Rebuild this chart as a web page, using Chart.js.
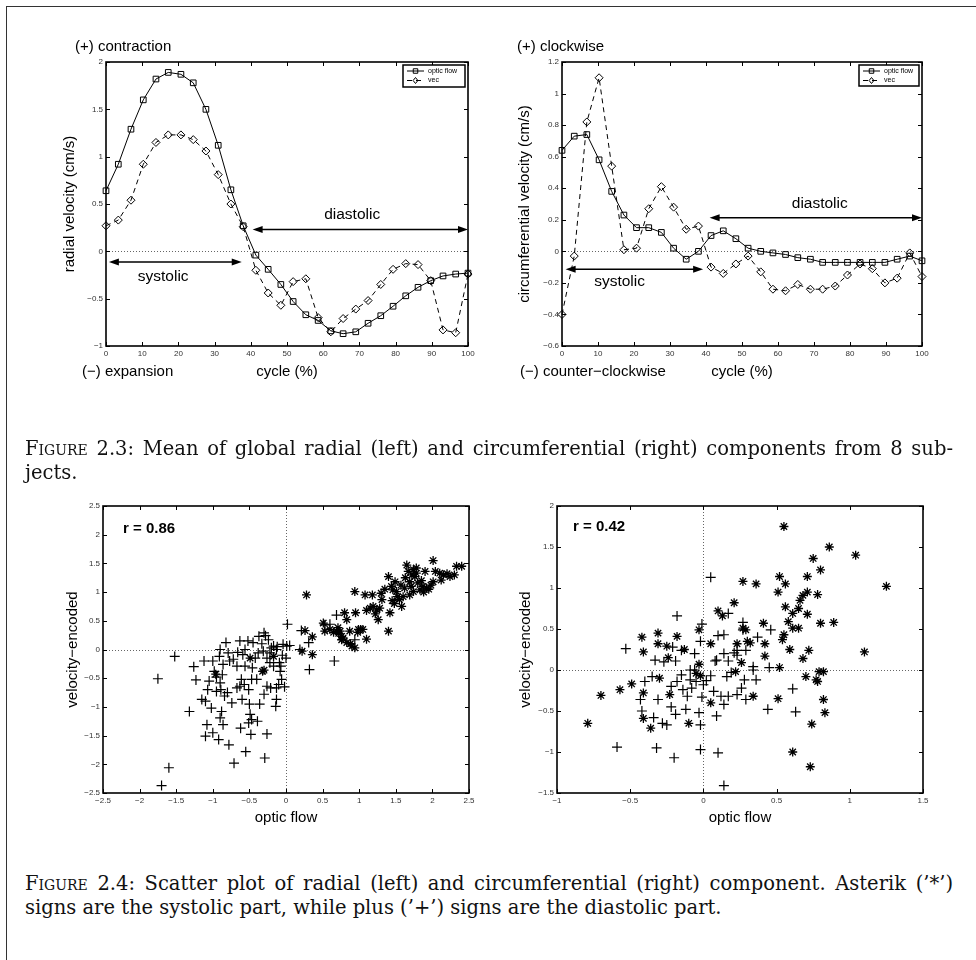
<!DOCTYPE html>
<html>
<head>
<meta charset="utf-8">
<script src="https://cdn.jsdelivr.net/npm/chart.js@4.4.1/dist/chart.umd.min.js"></script>
<style>
  body { margin: 0; width: 976px; height: 960px; background: #fff; position: relative; overflow: hidden; }
  .frame-top { position: absolute; left: 6px; top: 6px; width: 970px; border-top: 1.5px solid #333; }
  .frame-left { position: absolute; left: 6px; top: 6px; height: 954px; border-left: 1.5px solid #333; }
  .plot { position: absolute; }
  .cap { position: absolute; left: 25px; font-family: 'DejaVu Serif', serif; font-size: 17px; line-height: 23px; color: #111; white-space: nowrap; }
  .sc { font-variant: small-caps; }
</style>
</head>
<body>
<div class="frame-top"></div>
<div class="frame-left"></div>

<canvas id="radial" class="plot" width="462" height="384" style="left:26px;top:12px"></canvas>
<canvas id="circ" class="plot" width="460" height="384" style="left:482px;top:12px"></canvas>
<canvas id="radialScatter" class="plot" width="466" height="387" style="left:23px;top:456px"></canvas>
<canvas id="circScatter" class="plot" width="466" height="387" style="left:477px;top:456px"></canvas>

<div class="cap" data-justify="928" data-group="a" style="top:437px"><span><span class="sc">Figure</span> 2.3: Mean of global radial (left) and circumferential (right) components from 8 sub-</span></div>
<div class="cap" data-group="a" style="top:461px"><span>jects.</span></div>
<div class="cap" data-justify="928" data-group="b" style="top:872px"><span><span class="sc">Figure</span> 2.4: Scatter plot of radial (left) and circumferential (right) component. Asterik (’*’)</span></div>
<div class="cap" data-group="b" style="top:896px"><span>signs are the systolic part, while plus (’+’) signs are the diastolic part.</span></div>

<script>
// cycle positions (%) of the 30 samples
const cycle = [0, 3.4, 6.9, 10.3, 13.8, 17.2, 20.7, 24.1, 27.6, 31.0, 34.5, 37.9, 41.4, 44.8, 48.3,
  51.7, 55.2, 58.6, 62.1, 65.5, 69.0, 72.4, 75.9, 79.3, 82.8, 86.2, 89.7, 93.1, 96.6, 100];

// radial velocity (cm/s)
const radialFlow = [0.64, 0.92, 1.29, 1.60, 1.82, 1.89, 1.87, 1.78, 1.50, 1.12, 0.65, 0.27, -0.04, -0.19, -0.35,
  -0.53, -0.67, -0.73, -0.84, -0.87, -0.85, -0.76, -0.68, -0.58, -0.47, -0.38, -0.31, -0.26, -0.24, -0.23];
const radialVec = [0.27, 0.33, 0.54, 0.92, 1.15, 1.23, 1.23, 1.18, 1.06, 0.81, 0.50, 0.26, -0.20, -0.44, -0.57,
  -0.32, -0.29, -0.70, -0.85, -0.71, -0.61, -0.52, -0.35, -0.19, -0.13, -0.14, -0.31, -0.83, -0.86, -0.24];

// circumferential velocity (cm/s)
const circFlow = [0.64, 0.73, 0.74, 0.58, 0.38, 0.23, 0.15, 0.15, 0.12, 0.02, -0.05, 0.00, 0.10, 0.13, 0.08,
  0.02, 0.00, -0.01, -0.02, -0.04, -0.05, -0.07, -0.07, -0.07, -0.07, -0.07, -0.07, -0.05, -0.03, -0.06];
const circVec = [-0.40, -0.03, 0.82, 1.10, 0.54, 0.01, 0.02, 0.27, 0.41, 0.28, 0.14, 0.16, -0.10, -0.14, -0.08,
  -0.03, -0.13, -0.24, -0.25, -0.21, -0.24, -0.24, -0.22, -0.15, -0.08, -0.11, -0.20, -0.17, -0.01, -0.16];

// scatter: [optic flow, velocity-encoded]
const radialSystolic = [[0.28,0.95],[0.94,1.01],[1.08,0.95],[1.18,0.95],[1.31,0.87],[1.19,0.75],[1.15,0.72],[1.24,0.69],
  [1.28,0.72],[1.26,0.52],[1.40,1.27],[1.44,1.10],[1.46,1.04],[1.42,0.64],[1.40,0.32],[1.49,1.18],[1.55,0.87],[1.58,0.75],
  [1.60,0.92],[1.65,1.47],[1.67,1.36],[1.69,1.18],[1.71,1.10],[1.74,1.39],[1.76,1.27],[1.78,1.33],[1.80,1.16],[1.69,0.95],
  [1.74,1.01],[1.83,1.04],[1.87,1.10],[1.92,1.07],[1.62,1.07],[2.01,1.55],[2.04,1.36],[2.10,1.33],[2.15,1.30],[2.24,1.27],
  [2.33,1.45],[2.40,1.45],[2.12,1.21],[2.01,1.18],[1.90,1.36],[1.51,1.01],[0.51,0.46],[0.53,0.32],[0.69,0.32],[0.71,0.38],
  [0.74,0.32],[0.80,0.64],[0.83,0.52],[0.87,0.32],[0.95,0.64],[0.99,0.35],[1.05,0.35],[1.10,0.18],[0.26,0.33],[0.22,-0.03],
  [0.36,0.22],[0.36,-0.09],[0.76,0.17],[0.83,0.12],[0.90,0.06],[0.94,0.03],[0.76,0.23],[-0.17,-0.12],[-0.30,-0.36],
  [-0.96,-0.43],[-0.49,-0.15],[-0.32,-0.38],[1.35,1.05],[1.45,0.85],[1.52,0.92],[1.63,1.25],[1.72,1.30],[1.85,1.20],
  [1.95,1.05],[1.88,1.00],[1.57,1.12],[1.30,0.98],[1.10,0.68],[1.22,0.62],[1.48,0.80],[1.78,1.42],[2.20,1.32],[2.30,1.30],
  [1.98,1.12],[0.65,0.30],[0.72,0.28],[0.60,0.35],[0.78,0.20],[0.88,0.10],[0.98,0.30],[1.02,0.35]];
const radialDiastolic = [[-1.52,-0.12],[-1.75,-0.51],[-1.26,-0.30],[-1.23,-0.53],[-1.12,-0.20],[-1.00,-0.20],[-1.32,-1.08],
  [-1.15,-0.87],[-1.10,-0.90],[-1.08,-1.31],[-1.10,-1.51],[-1.00,-1.45],[-0.92,-1.57],[-0.86,-1.31],[-0.90,-1.19],[-0.88,-1.08],
  [-1.02,-1.02],[-1.05,-0.55],[-1.07,-0.70],[-0.95,-0.73],[-0.89,-0.70],[-0.84,-0.81],[-0.98,-0.38],[-0.90,-0.58],[-0.87,-0.44],
  [-0.91,-0.12],[-0.90,0.00],[-0.82,0.12],[-0.86,-0.26],[-0.79,-0.06],[-0.77,-0.20],[-0.72,-0.17],[-0.67,-0.29],[-0.67,-0.67],
  [-0.63,-0.64],[-0.74,-0.93],[-0.78,-1.66],[-0.71,-1.98],[-1.60,-2.06],[-1.70,-2.37],[-0.55,-1.78],[-0.62,-1.37],[-0.60,-0.87],
  [-0.61,-0.52],[-0.57,-0.61],[-0.48,-1.48],[-0.49,-1.13],[-0.47,-1.22],[-0.51,-1.28],[-0.39,-1.25],[-0.50,-0.95],[-0.36,-0.95],
  [-0.51,-0.70],[-0.47,-0.52],[-0.40,-0.52],[-0.46,-0.32],[-0.56,-0.29],[-0.59,-0.09],[-0.63,0.15],[-0.52,0.15],[-0.56,0.00],
  [-0.45,0.12],[-0.37,0.23],[-0.30,0.29],[-0.28,0.24],[-0.24,0.17],[-0.38,-0.06],[-0.31,-0.03],[-0.26,-0.15],[-0.22,-0.06],
  [-0.20,0.03],[-0.17,0.06],[-0.13,0.00],[-0.22,-0.23],[-0.17,-0.29],[-0.09,-0.23],[-0.07,-0.29],[-0.04,0.09],[0.01,0.06],
  [0.05,0.07],[0.02,0.44],[0.00,-0.15],[-0.02,-0.65],[-0.06,-0.52],[-0.08,-0.38],[-0.10,-0.61],[-0.13,-0.67],[-0.21,-0.67],
  [-0.26,-0.64],[-0.30,-0.78],[-0.29,-1.89],[-0.26,-1.47],[-0.14,-0.99],[-0.13,-0.87],[0.19,0.00],[0.21,0.33],[0.31,0.12],
  [0.32,-0.35],[0.66,-0.20],[0.69,0.60],[0.60,0.44],[0.53,0.43],[0.94,0.17],[-0.80,-0.75],[-0.66,-0.05],[-0.42,-0.15],
  [-0.33,0.10],[-0.12,0.05],[-0.05,-0.10],[-0.95,-0.48]];
const circSystolic = [[0.55,1.75],[0.86,1.50],[1.04,1.40],[0.75,1.36],[0.80,1.22],[0.71,1.14],[0.52,1.14],[0.56,1.05],
  [0.27,1.08],[0.36,1.05],[0.51,0.95],[0.66,0.85],[0.68,0.91],[0.71,0.95],[0.78,0.92],[1.25,1.02],[0.21,0.82],[0.56,0.77],
  [0.61,0.69],[0.65,0.75],[0.71,0.68],[0.58,0.59],[0.61,0.51],[0.65,0.51],[0.80,0.57],[0.89,0.58],[0.10,0.72],[0.13,0.66],
  [0.41,0.57],[0.27,0.51],[0.29,0.49],[-0.03,0.49],[0.55,0.43],[0.54,0.37],[-0.31,0.45],[-0.42,0.40],[-0.18,0.41],[-0.31,0.32],
  [-0.25,0.29],[-0.13,0.25],[0.05,0.32],[0.23,0.32],[0.30,0.35],[0.32,0.33],[0.42,0.32],[0.59,0.25],[0.72,0.24],[0.68,0.14],
  [0.42,0.17],[1.10,0.22],[-0.41,0.22],[0.52,0.03],[0.79,-0.02],[0.82,-0.02],[0.70,-0.08],[0.77,-0.12],[0.78,-0.14],
  [0.34,-0.32],[0.51,-0.35],[0.82,-0.36],[0.83,-0.52],[0.74,-0.66],[0.61,-1.00],[0.73,-1.18],[-0.79,-0.65],[-0.70,-0.31],
  [-0.57,-0.24],[-0.49,-0.17],[-0.41,-0.28],[-0.41,-0.59],[-0.36,-0.71],[-0.23,-0.30],[-0.10,-0.65],[0.05,-0.40],[-0.30,-0.10],
  [-0.24,0.15],[-0.05,-0.04],[-0.02,-0.07],[-0.03,0.07],[0.22,-0.02],[0.26,0.09]];
const circDiastolic = [[0.05,1.13],[0.17,0.69],[-0.18,0.66],[-0.01,0.56],[0.27,0.58],[0.14,0.43],[0.46,0.49],[0.37,0.40],
  [-0.02,0.35],[0.23,0.24],[0.29,0.24],[-0.53,0.26],[-0.21,0.28],[-0.15,0.24],[-0.06,0.20],[-0.33,0.12],[-0.27,0.10],
  [-0.19,0.11],[0.09,0.12],[0.14,0.20],[0.17,0.11],[0.23,0.18],[0.34,0.04],[0.45,0.03],[-0.35,-0.08],[-0.40,-0.14],
  [-0.43,-0.36],[-0.42,-0.50],[-0.34,-0.58],[-0.31,-0.36],[-0.28,-0.65],[-0.25,-0.67],[-0.22,-0.45],[-0.19,-0.54],
  [-0.22,-0.20],[-0.18,-0.14],[-0.15,-0.06],[-0.14,-0.24],[-0.12,-0.48],[-0.11,-0.32],[-0.09,-0.12],[-0.09,0.00],
  [-0.08,-0.22],[-0.06,0.00],[-0.05,-0.14],[-0.03,-0.52],[-0.02,-0.67],[-0.01,-0.33],[0.00,-0.18],[0.02,-0.13],[0.05,-0.07],
  [0.07,-0.26],[0.12,-0.32],[0.14,-0.42],[0.17,-0.32],[0.16,-0.08],[0.19,-0.03],[0.26,-0.22],[0.28,-0.12],[0.34,0.00],
  [0.29,-0.36],[0.36,-0.12],[0.23,-0.30],[0.09,-0.56],[-0.02,-0.97],[0.10,-1.01],[-0.20,-1.07],[-0.32,-0.95],[-0.59,-0.94],
  [0.14,-1.41],[0.44,-0.48],[0.63,-0.51],[0.61,-0.23],[0.08,0.11],[0.21,0.21],[0.10,0.42],[0.27,0.49]];

const fmt = v => { const r = Math.round(v * 100) / 100; return (r < 0 ? '−' : '') + Math.abs(r); };
const SANS = 'Liberation Sans, Arial, sans-serif';

function seg(ctx, x1, y1, x2, y2) { ctx.beginPath(); ctx.moveTo(x1, y1); ctx.lineTo(x2, y2); ctx.stroke(); }

function marker(ctx, style, x, y, r) {
  ctx.beginPath();
  if (style === 'rect') { const s = r * 0.75; ctx.rect(x - s, y - s, 2 * s, 2 * s); }
  else if (style === 'rectRot') { ctx.moveTo(x, y - r); ctx.lineTo(x + r * 0.8, y); ctx.lineTo(x, y + r); ctx.lineTo(x - r * 0.8, y); ctx.closePath(); }
  ctx.stroke();
}

function head(ctx, x, y, dir) {
  ctx.beginPath(); ctx.moveTo(x, y); ctx.lineTo(x + dir * 10, y - 3.5); ctx.lineTo(x + dir * 10, y + 3.5); ctx.closePath(); ctx.fill();
}

// draws the MATLAB style box, inward ticks, zero lines, labels, arrows and legend
const matlabPlugin = {
  id: 'matlab',
  beforeDatasetsDraw(chart, args, o) {
    const { ctx, chartArea: a, scales: { x, y } } = chart;
    ctx.save();
    ctx.strokeStyle = '#666'; ctx.lineWidth = 1; ctx.setLineDash([1, 2]);
    if (o.zeroY) { const py = Math.round(y.getPixelForValue(0)) + 0.5; seg(ctx, a.left, py, a.right, py); }
    if (o.zeroX) { const px = Math.round(x.getPixelForValue(0)) + 0.5; seg(ctx, px, a.top, px, a.bottom); }
    ctx.restore();
  },
  afterDatasetsDraw(chart, args, o) {
    const { ctx, chartArea: a, scales: { x, y } } = chart;
    ctx.save();
    ctx.strokeStyle = '#000'; ctx.fillStyle = '#000';
    // inward ticks
    ctx.lineWidth = 1;
    x.ticks.forEach(t => { const p = Math.round(x.getPixelForValue(t.value)) + 0.5; seg(ctx, p, a.bottom, p, a.bottom - 4); seg(ctx, p, a.top, p, a.top + 4); });
    y.ticks.forEach(t => { const p = Math.round(y.getPixelForValue(t.value)) + 0.5; seg(ctx, a.left, p, a.left + 4, p); seg(ctx, a.right, p, a.right - 4, p); });
    // box
    ctx.lineWidth = 1.6;
    ctx.strokeRect(a.left, a.top, a.right - a.left, a.bottom - a.top);

    // arrows
    ctx.lineWidth = 1.5;
    (o.arrows || []).forEach(ar => {
      const py = y.getPixelForValue(ar.y), p1 = x.getPixelForValue(ar.x1), p2 = x.getPixelForValue(ar.x2);
      seg(ctx, p1 + 4, py, p2 - 4, py); head(ctx, p1, py, 1); head(ctx, p2, py, -1);
    });
    // texts in data space
    ctx.textBaseline = 'middle';
    (o.texts || []).forEach(t => {
      ctx.font = (t.bold ? 'bold ' : '') + t.size + 'px ' + SANS;
      ctx.textAlign = t.align || 'center';
      const px = t.dx !== undefined ? a.left + t.dx : x.getPixelForValue(t.x);
      const py = t.dy !== undefined ? a.top + t.dy : y.getPixelForValue(t.y);
      ctx.fillText(t.text, px, py);
    });
    // notes outside the box
    ctx.font = '15px ' + SANS; ctx.textAlign = 'left';
    (o.notes || []).forEach(n => {
      ctx.fillText(n.text, a.left + n.dx, n.top !== undefined ? a.top + n.top : a.bottom + n.bottom);
    });
    // axis titles
    ctx.textAlign = 'center';
    ctx.fillText(o.xTitle, (a.left + a.right) / 2, a.bottom + o.xTitleDy);
    ctx.save();
    ctx.translate(a.left + o.yTitleDx, (a.top + a.bottom) / 2);
    ctx.rotate(-Math.PI / 2);
    ctx.fillText(o.yTitle, 0, 0);
    ctx.restore();

    // legend box
    if (o.legend) {
      const L = o.legend, lx = a.right - 3 - L.w, ly = a.top + 3;
      ctx.fillStyle = '#fff'; ctx.fillRect(lx, ly, L.w, L.h);
      ctx.lineWidth = 1.5; ctx.strokeStyle = '#000'; ctx.strokeRect(lx, ly, L.w, L.h);
      ctx.fillStyle = '#000'; ctx.font = '7px ' + SANS; ctx.textAlign = 'left';
      chart.data.datasets.forEach((ds, i) => {
        const ry = ly + 6 + i * 9.5;
        ctx.lineWidth = 1;
        ctx.setLineDash(ds.borderDash || []); seg(ctx, lx + 4, ry, lx + 21, ry); ctx.setLineDash([]);
        marker(ctx, ds.pointStyle, lx + 12.5, ry, 3);
        ctx.fillText(ds.label, lx + 25, ry);
      });
    }
    ctx.restore();
  }
};

function scale(min, max, step, axis) {
  return {
    type: 'linear', min, max,
    grid: { display: false, drawTicks: false },
    border: { display: false },
    ticks: { stepSize: step, autoSkip: false, maxRotation: 0, padding: 3, color: '#333',
      font: { family: SANS, size: 8 }, callback: fmt },
    afterFit: s => { if (axis === 'x') s.height = 50; else s.width = 80; }
  };
}

function lineSets(xs, flow, vec) {
  return [
    { label: 'optic flow', data: xs.map((c, i) => ({ x: c, y: flow[i] })), borderColor: '#000', borderWidth: 1,
      pointStyle: 'rect', pointRadius: 4, pointBorderColor: '#000', pointBackgroundColor: 'rgba(0,0,0,0)',
      pointBorderWidth: 1, tension: 0, clip: false },
    { label: 'vec', data: xs.map((c, i) => ({ x: c, y: vec[i] })), borderColor: '#000', borderWidth: 1,
      borderDash: [5, 4], pointStyle: 'rectRot', pointRadius: 4, pointBorderColor: '#000',
      pointBackgroundColor: 'rgba(0,0,0,0)', pointBorderWidth: 1, tension: 0, clip: false }
  ];
}

function scatterSets(sys, dia) {
  return [
    { label: 'systolic', data: sys.map(p => ({ x: p[0], y: p[1] })), pointStyle: 'star', pointRadius: 4.5,
      pointBorderWidth: 1.3, pointBorderColor: '#000', pointBackgroundColor: '#000', clip: false },
    { label: 'diastolic', data: dia.map(p => ({ x: p[0], y: p[1] })), pointStyle: 'cross', pointRadius: 5,
      pointBorderWidth: 1.2, pointBorderColor: '#000', pointBackgroundColor: '#000', clip: false }
  ];
}

function baseOptions(xs, ys, m) {
  return {
    responsive: false, animation: false, events: [],
    layout: { padding: { left: 0, top: 50, right: 20, bottom: 0 } },
    scales: { x: xs, y: ys },
    plugins: { legend: { display: false }, tooltip: { enabled: false }, matlab: m }
  };
}

new Chart(document.getElementById('radial'), {
  type: 'line',
  data: { datasets: lineSets(cycle, radialFlow, radialVec) },
  options: baseOptions(scale(0, 100, 10, 'x'), scale(-1, 2, 0.5, 'y'), {
    zeroY: true,
    xTitle: 'cycle (%)', xTitleDy: 26, yTitle: 'radial velocity (cm/s)', yTitleDx: -36,
    notes: [{ text: '(+) contraction', dx: -31, top: -15 }, { text: '(−) expansion', dx: -24, bottom: 26 }],
    arrows: [{ x1: 40.5, x2: 100, y: 0.23 }, { x1: 0.8, x2: 37.5, y: -0.113 }],
    texts: [{ text: 'diastolic', x: 68, y: 0.39, size: 15.5 }, { text: 'systolic', x: 15.8, y: -0.27, size: 15.5 }],
    legend: { w: 62, h: 22 }
  }),
  plugins: [matlabPlugin]
});

new Chart(document.getElementById('circ'), {
  type: 'line',
  data: { datasets: lineSets(cycle, circFlow, circVec) },
  options: baseOptions(scale(0, 100, 10, 'x'), scale(-0.6, 1.2, 0.2, 'y'), {
    zeroY: true,
    xTitle: 'cycle (%)', xTitleDy: 26, yTitle: 'circumferential velocity (cm/s)', yTitleDx: -37,
    notes: [{ text: '(+) clockwise', dx: -45, top: -15 }, { text: '(−) counter−clockwise', dx: -42, bottom: 26 }],
    arrows: [{ x1: 41, x2: 100, y: 0.213 }, { x1: 1, x2: 39.2, y: -0.113 }],
    texts: [{ text: 'diastolic', x: 71.6, y: 0.30, size: 15.5 }, { text: 'systolic', x: 16, y: -0.19, size: 15.5 }],
    legend: { w: 60, h: 21 }
  }),
  plugins: [matlabPlugin]
});

new Chart(document.getElementById('radialScatter'), {
  type: 'scatter',
  data: { datasets: scatterSets(radialSystolic, radialDiastolic) },
  options: baseOptions(scale(-2.5, 2.5, 0.5, 'x'), scale(-2.5, 2.5, 0.5, 'y'), {
    zeroY: true, zeroX: true,
    xTitle: 'optic flow', xTitleDy: 25, yTitle: 'velocity−encoded', yTitleDx: -30,
    texts: [{ text: 'r = 0.86', dx: 20, dy: 23, size: 15, bold: true, align: 'left' }]
  }),
  plugins: [matlabPlugin]
});

new Chart(document.getElementById('circScatter'), {
  type: 'scatter',
  data: { datasets: scatterSets(circSystolic, circDiastolic) },
  options: baseOptions(scale(-1, 1.5, 0.5, 'x'), scale(-1.5, 2, 0.5, 'y'), {
    zeroY: true, zeroX: true,
    xTitle: 'optic flow', xTitleDy: 25, yTitle: 'velocity−encoded', yTitleDx: -31,
    texts: [{ text: 'r = 0.42', dx: 16, dy: 21, size: 15, bold: true, align: 'left' }]
  }),
  plugins: [matlabPlugin]
});

// size the caption font so the first line nearly fills the text width, then justify it
document.querySelectorAll('.cap[data-justify]').forEach(el => {
  const target = +el.dataset.justify, span = el.firstElementChild;
  const spaces = (span.textContent.match(/ /g) || []).length;
  let w = span.getBoundingClientRect().width;
  const size = Math.min(19.5, 17 * (target - spaces * 1.5) / w);
  document.querySelectorAll('.cap[data-group="' + el.dataset.group + '"]').forEach(c => { c.style.fontSize = size + 'px'; });
  w = span.getBoundingClientRect().width;
  el.style.wordSpacing = Math.max(0, (target - w) / spaces) + 'px';
});
</script>
</body>
</html>
